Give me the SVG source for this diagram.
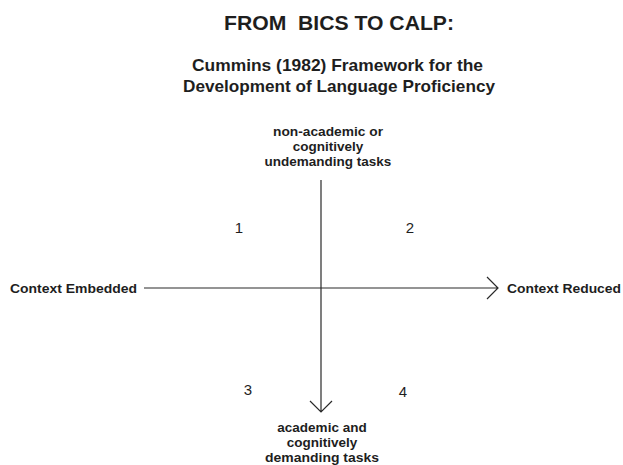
<svg xmlns="http://www.w3.org/2000/svg" width="623" height="465" viewBox="0 0 623 465">
<defs>
<style>
text{font-family:"Liberation Sans",Arial,sans-serif;fill:#1e1e1e;}
.t{font-size:20px;font-weight:bold;}
.s{font-size:17px;font-weight:bold;}
.l{font-size:13.5px;font-weight:bold;}
.c{text-anchor:middle;}
.n{font-size:15px;text-anchor:middle;}
.ax{stroke:#2a2a2a;stroke-width:1.2;fill:none;}
</style>
</defs>
<rect width="623" height="465" fill="#fff"/>
<g id="title">
<text class="t" x="224" y="30" textLength="230" lengthAdjust="spacingAndGlyphs" xml:space="preserve">FROM  BICS TO CALP:</text>
<text class="s" x="192" y="71" textLength="291" lengthAdjust="spacingAndGlyphs">Cummins (1982) Framework for the</text>
<text class="s" x="183" y="92" textLength="312" lengthAdjust="spacingAndGlyphs">Development of Language Proficiency</text>
</g>
<g id="top-label">
<text class="l c" x="328" y="136" textLength="110" lengthAdjust="spacingAndGlyphs">non-academic or</text>
<text class="l c" x="328" y="151">cognitively</text>
<text class="l c" x="328" y="166">undemanding tasks</text>
</g>
<g id="bottom-label">
<text class="l c" x="322" y="432">academic and</text>
<text class="l c" x="322" y="447">cognitively</text>
<text class="l c" x="322" y="462" textLength="114" lengthAdjust="spacingAndGlyphs">demanding tasks</text>
</g>
<g id="left-label"><text class="l" x="10" y="293" textLength="127" lengthAdjust="spacingAndGlyphs">Context Embedded</text></g>
<g id="right-label"><text class="l" x="507" y="293" textLength="114" lengthAdjust="spacingAndGlyphs">Context Reduced</text></g>
<g id="q1"><text class="n" x="239" y="233">1</text></g>
<g id="q2"><text class="n" x="410" y="233">2</text></g>
<g id="q3"><text class="n" x="248" y="395">3</text></g>
<g id="q4"><text class="n" x="403" y="397">4</text></g>
<g id="connectors">
<path class="ax" d="M144 288H498M487 277L498 288L487 299"/>
<path class="ax" d="M321 180V412M310 401L321 412L332 401"/>
</g>
</svg>
